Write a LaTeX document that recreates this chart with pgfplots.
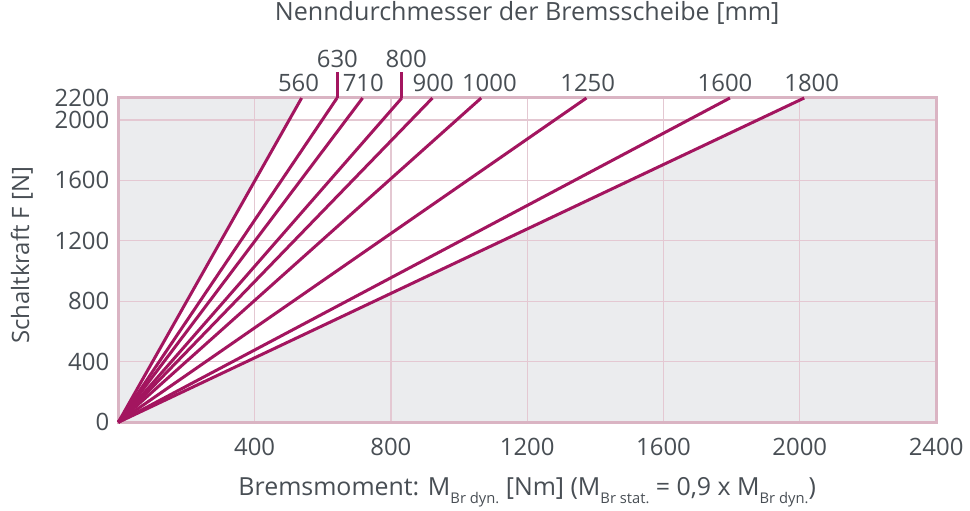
\documentclass[border=0pt]{standalone}
\usepackage{fontspec}
\setmainfont{Open Sans}
\usepackage{pgfplots}
\pgfplotsset{compat=1.18}
\definecolor{linec}{RGB}{163,21,95}
\definecolor{bggray}{RGB}{235,236,238}
\definecolor{gridc}{RGB}{228,200,210}
\definecolor{borderc}{RGB}{218,180,195}
\definecolor{textc}{RGB}{72,78,84}
\newcommand{\sub}[1]{\raisebox{-4bp}{\fontsize{7.4}{8}\selectfont #1}}
\begin{document}
\begin{tikzpicture}
\begin{axis}[
  set layers,
  scale only axis,
  width=408.9bp, height=162.15bp,
  at={(0,0)}, anchor=south west,
  xmin=0, xmax=2400, ymin=0, ymax=2145,
  clip=false,
  xtick={0,400,800,1200,1600,2000,2400},
  xticklabels={,400,800,1200,1600,2000,2400},
  ytick={0,400,800,1200,1600,2000,2145},
  yticklabels={0,400,800,1200,1600,2000,2200},
  major tick length=0pt,
  grid=major,
  grid style={draw=gridc, line width=0.6bp},
  axis line style={draw=borderc, line width=1.5bp},
  axis background/.style={fill=bggray},
  tick label style={font=\fontsize{12}{14}\selectfont, text=textc},
  xticklabel style={yshift=-4.5bp},
  yticklabel style={xshift=-1bp},
  label style={font=\fontsize{12.5}{14}\selectfont, text=textc},
  xlabel={Bremsmoment: M\sub{Br dyn.} [Nm] (M\sub{Br stat.} = 0,9 x M\sub{Br dyn.})},
  xlabel style={at={(axis description cs:0.5,-0.2242)}, anchor=base},
  ylabel={Schaltkraft F [N]},
  ylabel style={at={(axis description cs:-0.1178,0.515)}, anchor=center, font=\fontsize{12}{14}\selectfont},
  title={Nenndurchmesser der Bremsscheibe [mm]},
  title style={at={(axis description cs:0.5,1.2035)}, anchor=base, font=\fontsize{12.6}{14}\selectfont, text=textc},
]
\addplot[on layer=axis background, fill=white, draw=none] coordinates {(0,0) (538,2145) (2013,2145)} -- cycle;
\foreach \xe in {538,642,717,832,922,1065,1374,1795,2013} {
  \edef\temp{\noexpand\addplot[linec, line width=1.5bp] coordinates {(0,0) (\xe,2145)};}
  \temp
}
\addplot[linec, line width=1.5bp] coordinates {(642,2145) (642,2317)};
\addplot[linec, line width=1.5bp] coordinates {(832,2145) (832,2317)};
\begin{scope}[every node/.style={font=\fontsize{12}{14}\selectfont, text=textc, anchor=center, inner sep=0pt}]
\node[yshift=7.35bp] at (axis cs:529,2145) {560};
\node[yshift=19.65bp] at (axis cs:643,2145) {630};
\node[yshift=7.35bp] at (axis cs:719,2145) {710};
\node[yshift=19.65bp] at (axis cs:845,2145) {800};
\node[yshift=7.35bp] at (axis cs:924,2145) {900};
\node[yshift=7.35bp] at (axis cs:1089,2145) {1000};
\node[yshift=7.35bp] at (axis cs:1377.5,2145) {1250};
\node[yshift=7.35bp] at (axis cs:1780.5,2145) {1600};
\node[yshift=7.35bp] at (axis cs:2035,2145) {1800};
\end{scope}
\end{axis}
\pgfresetboundingbox
\useasboundingbox (-59.15bp,-44.35bp) rectangle (425.85bp,211.15bp);
\end{tikzpicture}
\end{document}
